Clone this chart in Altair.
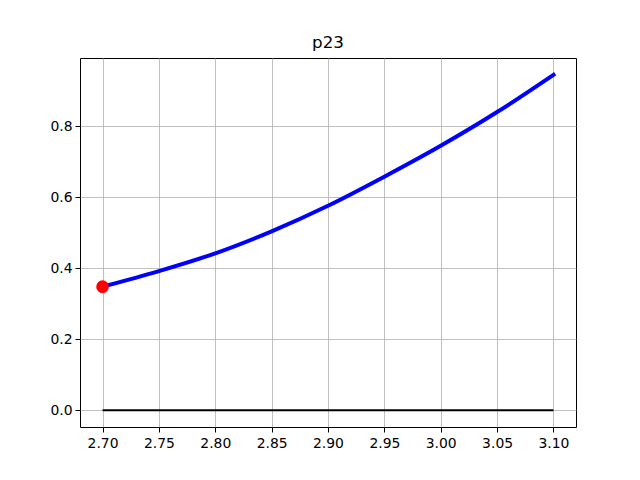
import altair as alt
import pandas as pd

x_vals = [2.70, 2.75, 2.80, 2.85, 2.90, 2.95, 3.00, 3.05, 3.10]
y_vals = [0.348, 0.392, 0.442, 0.504, 0.576, 0.658, 0.745, 0.840, 0.945]
zero_x = [2.70, 3.10]
zero_y = [0.0, 0.0]
dot_x = [2.70]
dot_y = [0.348]
x_ticks = [2.70, 2.75, 2.80, 2.85, 2.90, 2.95, 3.00, 3.05, 3.10]
y_ticks = [0.0, 0.2, 0.4, 0.6, 0.8]

curve = pd.DataFrame({"x": x_vals, "y": y_vals})
zero = pd.DataFrame({"x": zero_x, "y": zero_y})
dot = pd.DataFrame({"x": dot_x, "y": dot_y})

xs = alt.Scale(domain=[2.68, 3.12], nice=False, zero=False)
ys = alt.Scale(domain=[-0.0473, 0.9923], nice=False, zero=False)

font = "DejaVu Sans"
xax = alt.Axis(values=x_ticks, format=".2f", title=None, grid=True, gridColor="#b0b0b0",
               gridWidth=0.8, tickSize=5, tickColor="black", labelPadding=4,
               labelFont=font, labelFontSize=13.9, labelColor="black", domain=False,
               labelFlush=False)
yax = alt.Axis(values=y_ticks, format=".1f", title=None, grid=True, gridColor="#b0b0b0",
               gridWidth=0.8, tickSize=5, tickColor="black", labelPadding=3,
               labelFont=font, labelFontSize=13.9, labelColor="black", domain=False,
               labelFlush=False)

base_x = alt.X("x:Q", scale=xs, axis=xax)
base_y = alt.Y("y:Q", scale=ys, axis=yax)

zline = alt.Chart(zero).mark_line(color="black", strokeWidth=2).encode(x=base_x, y=base_y)
cline = alt.Chart(curve).mark_line(color="blue", strokeWidth=4, strokeCap="square",
                                   interpolate="monotone").encode(
    x=alt.X("x:Q", scale=xs), y=alt.Y("y:Q", scale=ys))
pt = alt.Chart(dot).mark_circle(color="red", opacity=1, size=160).encode(
    x=alt.X("x:Q", scale=xs), y=alt.Y("y:Q", scale=ys))

chart = alt.layer(zline, cline, pt).properties(
    width=496, height=369,
    title=alt.TitleParams("p23", font=font, fontSize=16.7, fontWeight="normal", color="black", offset=6),
    autosize=alt.AutoSizeParams(type="none"),
    padding={"left": 72, "top": 50, "right": 56, "bottom": 45},
).configure_view(stroke="black", strokeWidth=1)

chart.save("out.html", embed_options={"renderer": "svg", "actions": False})
